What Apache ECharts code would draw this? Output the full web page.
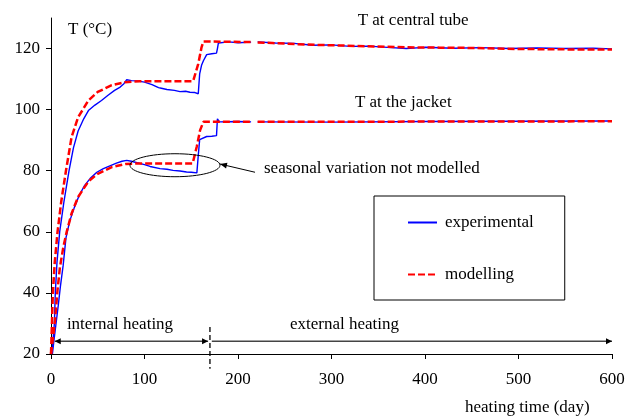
<!DOCTYPE html>
<html><head><meta charset="utf-8">
<script src="https://cdn.jsdelivr.net/npm/echarts@6/dist/echarts.min.js"></script>
<style>html,body{margin:0;padding:0;background:#fff}#c{width:628px;height:418px}</style>
</head><body><div id="c"></div><script>
// Heating curves: temperature (°C) against heating time (day); null marks a gap in the record
const centralModelDays = [0, 1, 2, 4, 7, 11, 16, 22, 29, 40, 50, 65, 79, 95, 152, 157.5, 161, 163, 170, 214, 215, 221, 237, 273, 309, 345, 380, 416, 452, 487, 523, 560, 600];
const centralModelT    = [20, 30, 40, 50, 60, 70, 80, 91, 97.5, 103, 105.8, 108, 109, 109.3, 109.3, 115, 120.4, 122.3, 122.3, 122.1, null, 122, 121.8, 121.3, 121, 120.7, 120.4, 120.3, 120.2, 119.9, 119.8, 119.7, 119.7];

const centralExpDays = [1, 2, 3.6, 4.6, 6.4, 9.3, 13.9, 19.3, 24, 29, 35, 40, 47, 54, 61, 68, 74, 78, 81, 86, 92, 100, 108, 115, 118, 124, 132, 138, 144, 148.6, 154, 157.5, 159, 161, 163, 166.5, 172, 177, 178, 179, 190, 200, 214, 215, 221, 240, 260, 280, 300, 320, 340, 360, 380, 400, 430, 460, 490, 520, 550, 580, 600];
const centralExpT    = [20, 24, 30, 40, 50, 60, 70, 80, 87.5, 93, 97, 99.7, 101.5, 103, 104.7, 106.3, 107.4, 108.5, 109.8, 109.5, 109.4, 109, 108.2, 107.2, 107, 106.6, 106.3, 105.9, 106, 105.7, 105.6, 105.2, 111.7, 114.5, 116, 118, 118.3, 118.5, 120, 121.8, 122.2, 121.9, 122.1, null, 122.2, 121.8, 121.7, 121.1, 121.2, 120.7, 120.8, 120.4, 120.0, 120.4, 120.1, 120.3, 120.0, 120.2, 120.0, 120.1, 119.9];

const jacketModelDays = [0, 2, 4.3, 7, 9.6, 13.2, 16.8, 22, 29, 40, 50, 65, 80, 95, 151.5, 156, 159.4, 163, 200, 214, 215, 221, 300, 400, 500, 600];
const jacketModelT    = [20, 25, 31, 41, 48.5, 55, 60, 66, 71.4, 76.5, 79, 81.2, 82.2, 82.4, 82.4, 88, 93.2, 96, 96, 96, null, 96, 96, 96.1, 96.1, 96.2];

const jacketExpDays = [1.5, 3, 5, 7.8, 10, 13, 16, 20, 25, 30, 36, 42, 49, 56, 63, 70, 76, 81, 86, 92, 100, 106, 116.6, 124, 130.5, 138, 145, 150, 156, 157.5, 159, 161, 166.5, 172, 177, 178, 180, 200, 214, 215, 221, 300, 400, 500, 600];
const jacketExpT    = [20, 24, 29, 36, 42, 49, 58, 63.5, 68, 71.8, 75.2, 77.5, 79.5, 80.7, 81.6, 82.5, 83.1, 83.4, 83.1, 82.6, 82, 81.4, 80.7, 80.5, 80.1, 79.9, 79.6, 79.5, 79.3, 85, 90.2, 90.8, 91.2, 91.3, 91.5, 97, 96, 96.1, 96, null, 96, 95.9, 96.1, 96.2, 96.3];

const xTicks = [0, 100, 200, 300, 400, 500, 600];
const yTicks = [20, 40, 60, 80, 100, 120];
const seriesNames = ['experimental', 'modelling'];

const FONT = '"Liberation Serif", "Times New Roman", serif';
const FS = 17;
const BLUE = '#0000ff';
const RED = '#ff0000';

function pairs(days, temps) {
  return days.map((d, i) => [d, temps[i] === null ? '-' : temps[i]]);
}

const expStyle = { color: BLUE, width: 1.4, type: 'solid' };
const modelStyle = { color: RED, width: 2.5, type: [7, 3] };

function lineSeries(name, data, style, z) {
  return {
    name, type: 'line', data, z,
    showSymbol: false, symbol: 'none', connectNulls: false,
    lineStyle: style, itemStyle: { color: style.color },
    emphasis: { disabled: true }, animation: false
  };
}

const chart = echarts.init(document.getElementById('c'), null, { renderer: 'canvas' });
chart.setOption({
  animation: false,
  grid: { left: 51, right: 16, top: 18, bottom: 64, containLabel: false },
  xAxis: {
    type: 'value', min: 0, max: 600, interval: 100,
    axisLine: { lineStyle: { color: '#000', width: 1 } },
    axisTick: { show: true, length: 5, inside: false, lineStyle: { color: '#000' }, customValues: xTicks },
    axisLabel: { color: '#000', fontFamily: FONT, fontSize: FS, margin: 17, customValues: xTicks },
    splitLine: { show: false }
  },
  yAxis: {
    type: 'value', min: 20, max: 130, interval: 20,
    axisLine: { show: true, lineStyle: { color: '#000', width: 1 } },
    axisTick: { show: true, length: 5, inside: false, lineStyle: { color: '#000' }, customValues: yTicks },
    axisLabel: { color: '#000', fontFamily: FONT, fontSize: FS, margin: 11, customValues: yTicks },
    splitLine: { show: false }
  },
  legend: {
    data: seriesNames,
    left: 374, top: 196, orient: 'vertical',
    padding: [18, 31, 17, 33], itemGap: 35,
    itemWidth: 29, itemHeight: 14,
    borderColor: '#000', borderWidth: 1,
    selectedMode: false,
    itemStyle: { opacity: 0 },
    textStyle: { fontFamily: FONT, fontSize: FS, color: '#000', padding: [0, 0, 0, 3] }
  },
  series: [
    lineSeries(seriesNames[0], pairs(centralExpDays, centralExpT), expStyle, 2),
    lineSeries(seriesNames[0], pairs(jacketExpDays, jacketExpT), expStyle, 2),
    lineSeries(seriesNames[1], pairs(centralModelDays, centralModelT), modelStyle, 3),
    lineSeries(seriesNames[1], pairs(jacketModelDays, jacketModelT), modelStyle, 3)
  ]
});

// Annotations placed in data space and converted to pixels
function P(d, t) { return chart.convertToPixel({ gridIndex: 0 }, [d, t]); }
function text(str, d, t, align) {
  const p = P(d, t);
  return { type: 'text', z: 10, style: { text: str, x: p[0], y: p[1], font: FS + 'px ' + FONT, fill: '#000', align: align || 'left', verticalAlign: 'middle' } };
}
function seg(a, b, color, width, dash) {
  return { type: 'line', z: 10, shape: { x1: a[0], y1: a[1], x2: b[0], y2: b[1] }, style: { stroke: color, lineWidth: width, lineDash: dash || null } };
}
function head(tip, from, color, len, half) {
  const dx = tip[0] - from[0], dy = tip[1] - from[1];
  const L = Math.hypot(dx, dy), ux = dx / L, uy = dy / L;
  const bx = tip[0] - ux * len, by = tip[1] - uy * len;
  return { type: 'polygon', z: 10, shape: { points: [tip, [bx - uy * half, by + ux * half], [bx + uy * half, by - ux * half]] }, style: { fill: color } };
}

const GREY = '#444';
const arrowT = 24.2;
const g = [];
// internal / external heating periods
const i1 = P(4, arrowT), i2 = P(168, arrowT);
g.push(seg(i1, i2, GREY, 1.5), head(i1, i2, '#000', 6, 3), head(i2, i1, '#000', 6, 3));
const e1 = P(172, arrowT), e2 = P(600, arrowT);
g.push(seg(e1, e2, GREY, 1.5), head(e2, e1, '#000', 6, 3));
g.push(seg(P(170, 28.8), P(170, 15.2), '#000', 1.3, [5, 3]));
g.push(text('internal heating', 17, 29.5), text('external heating', 255.6, 29.5));
// seasonal variation marker
const c = P(132.6, 81.8);
g.push({ type: 'ellipse', z: 10, shape: { cx: c[0], cy: c[1], rx: 45, ry: 11.5 }, style: { fill: null, stroke: '#000', lineWidth: 1 } });
const aTail = P(218.2, 79.5), aTip = P(180.7, 82.2);
g.push(seg(aTail, aTip, '#000', 1), head(aTip, aTail, '#000', 7, 3));
g.push(text('seasonal variation not modelled', 227.8, 80.8));
// curve labels and axis titles
g.push(text('T at central tube', 328, 129.2), text('T at the jacket', 325, 102.4));
g.push(text('T (°C)', 18.2, 126.3));
g.push(text('heating time (day)', 576, 2.5, 'right'));
chart.setOption({ graphic: g });
</script></body></html>
